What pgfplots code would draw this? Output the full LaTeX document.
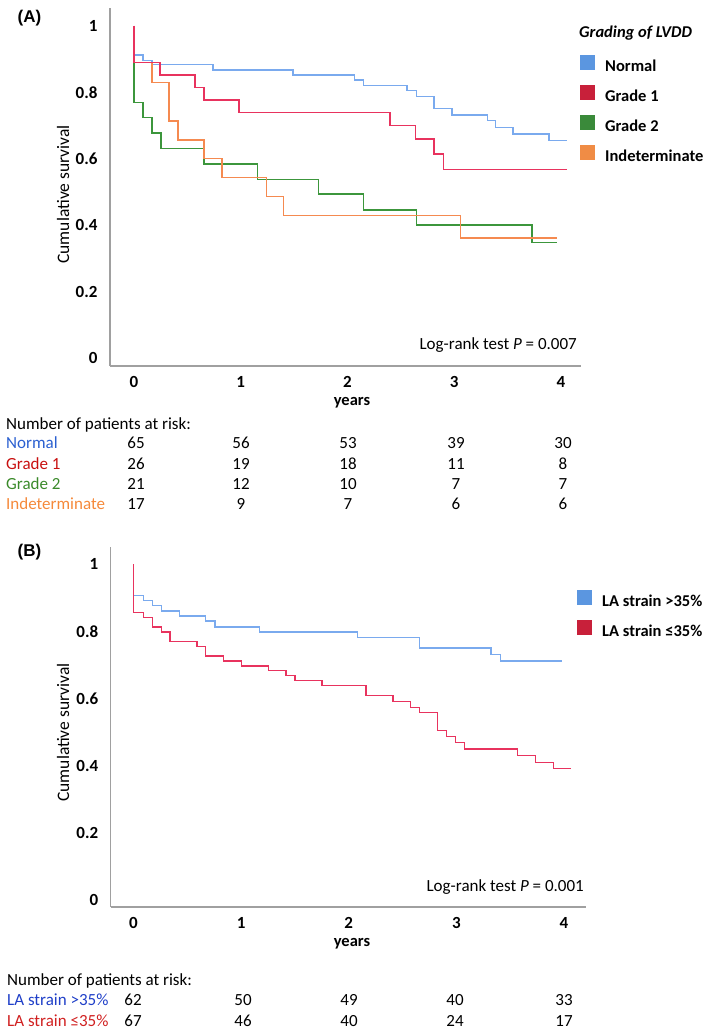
\documentclass[border=0pt]{standalone}
\usepackage{pgfplots}
\pgfplotsset{compat=1.18}
\usepackage{fontspec}
\setmainfont{Carlito}
\newfontfamily\arialfont{Liberation Sans}
\definecolor{lnblue}{HTML}{7AAAEE}
\definecolor{lnred}{HTML}{E8335E}
\definecolor{lngreen}{HTML}{3C963C}
\definecolor{lnorange}{HTML}{F58A50}
\definecolor{sqblue}{HTML}{5B96E0}
\definecolor{sqred}{HTML}{C8203A}
\definecolor{sqgreen}{HTML}{3A8A3A}
\definecolor{sqorange}{HTML}{F08C45}
\definecolor{txblue}{HTML}{2A5FD0}
\definecolor{txred}{HTML}{C81010}
\definecolor{txgreen}{HTML}{3A8A2A}
\definecolor{txorange}{HTML}{F5893A}
\definecolor{txblueB}{HTML}{1F3FC8}
\definecolor{txredB}{HTML}{D02020}
\definecolor{axgray}{HTML}{A0A0A0}
\newcommand{\fs}{\fontsize{17}{20}\selectfont}
\pgfplotsset{
  kmaxis/.style={
    scale only axis,
    axis x line*=bottom, axis y line*=left,
    axis line style={axgray, line width=1.3pt, -},
    major tick length=0pt,
    xtick={0,1,2,3,4}, xticklabels={0,1,2,3,4},
    ytick={0,0.2,0.4,0.6,0.8,1}, yticklabels={0,0.2,0.4,0.6,0.8,1},
    ticklabel style={font=\fs\bfseries},
    xticklabel style={yshift=-7pt},
    yticklabel style={xshift=-9pt},
    clip=false,
    legend cell align=left,
    legend image code/.code={\draw[##1, line width=0.5pt] (0pt,-1.5pt) rectangle (13.5pt,12pt);},
    legend style={draw=none, fill=none, anchor=north west, inner sep=0pt,
      font=\fontsize{16.5}{19}\selectfont\bfseries, row sep=10.5pt, column sep=11pt,
      nodes={inner sep=0pt, text height=11.5pt, text depth=3pt}},
  },
  kmline/.style={const plot, no marks, line width=1.4pt},
}
\begin{document}
\begin{tikzpicture}[x=1pt,y=1pt]
\useasboundingbox (0,0) rectangle (709,1033);
% ---------------- Panel A ----------------
\begin{axis}[kmaxis, at={(110pt,667pt)}, anchor=south west,
  width=471pt, height=358pt,
  xmin=-0.225, xmax=4.189, ymin=-0.024, ymax=1.054,
  legend style={at={(1,1)}, xshift=-1pt, yshift=-47pt}]
\addplot[kmline, lnblue, forget plot] coordinates {
(0,1) (0,0.913) (0.084,0.895) (0.169,0.883) (0.74,0.867) (1.49,0.852)
(2.065,0.837) (2.15,0.82) (2.56,0.805) (2.65,0.787) (2.81,0.752)
(2.98,0.732) (3.31,0.715) (3.39,0.695) (3.55,0.675) (3.89,0.655) (4.055,0.655)};
\addplot[kmline, lngreen, forget plot] coordinates {
(0,1) (0,0.77) (0.084,0.724) (0.169,0.678) (0.253,0.63) (0.656,0.584)
(1.16,0.538) (1.73,0.494) (2.15,0.446) (2.65,0.40) (3.73,0.347) (3.96,0.347)};
\addplot[kmline, lnorange, forget plot] coordinates {
(0,1) (0,0.889) (0.169,0.829) (0.328,0.714) (0.412,0.657) (0.656,0.60)
(0.825,0.543) (1.24,0.486) (1.40,0.429) (3.06,0.362) (3.96,0.362)};
\addplot[kmline, lnred, forget plot] coordinates {
(0,1) (0,0.889) (0.244,0.852) (0.572,0.815) (0.656,0.777) (0.984,0.739)
(2.40,0.70) (2.64,0.659) (2.81,0.614) (2.90,0.568) (4.055,0.568)};
\addlegendimage{draw=sqblue, fill=sqblue}
\addlegendentry{Normal}
\addlegendimage{draw=sqred, fill=sqred}
\addlegendentry{Grade 1}
\addlegendimage{draw=sqgreen, fill=sqgreen}
\addlegendentry{Grade 2}
\addlegendimage{draw=sqorange, fill=sqorange}
\addlegendentry{Indeterminate}
\end{axis}
\node[anchor=center, font=\arialfont\fontsize{17}{20}\selectfont\bfseries] at (29.5,1015) {(A)};
\node[rotate=90, anchor=base, inner sep=0pt, font=\fontsize{17.5}{20}\selectfont] at (69,838.5) {Cumulative survival};
\node[anchor=center, font=\fontsize{16.5}{20}\selectfont\bfseries] at (352,630) {years};
\node[anchor=east, inner sep=0pt, font=\fs] at (577,688) {Log-rank test \textit{P} = 0.007};
\node[anchor=west, inner sep=0pt, font=\fontsize{16.5}{20}\selectfont\bfseries\itshape] at (579,1000) {Grading of LVDD};
% at-risk table A
\begin{scope}[every node/.style={inner sep=0pt, font=\fs}]
\node[anchor=base west] at (6,603.5) {Number of patients at risk:};
\node[anchor=base west, text=txblue] at (6,584.2) {Normal};
\node[anchor=base west, text=txred] at (6,563.2) {Grade 1};
\node[anchor=base west, text=txgreen] at (6,543.2) {Grade 2};
\node[anchor=base west, text=txorange] at (6,523.2) {Indeterminate};
\foreach \x/\a/\b/\c/\d in {136/65/26/21/17, 241/56/19/12/9, 348/53/18/10/7, 456/39/11/7/6, 563/30/8/7/6}{
  \node[anchor=base] at (\x,584.2) {\a};
  \node[anchor=base] at (\x,563.2) {\b};
  \node[anchor=base] at (\x,543.2) {\c};
  \node[anchor=base] at (\x,523.2) {\d};
}
\end{scope}
% ---------------- Panel B ----------------
\begin{axis}[kmaxis, at={(110.7pt,126pt)}, anchor=south west,
  width=475.3pt, height=360pt,
  xmin=-0.212, xmax=4.205, ymin=-0.021, ymax=1.052,
  legend style={at={(1,1)}, xshift=-9pt, yshift=-43pt}]
\addplot[kmline, lnblue, forget plot] coordinates {
(0,1) (0,0.908) (0.091,0.893) (0.175,0.877) (0.258,0.861) (0.426,0.846)
(0.671,0.831) (0.757,0.814) (1.169,0.799) (2.08,0.783) (2.656,0.751)
(3.322,0.731) (3.409,0.712) (3.98,0.712)};
\addplot[kmline, lnred, forget plot] coordinates {
(0,1) (0,0.856) (0.091,0.841) (0.175,0.813) (0.258,0.799) (0.34,0.77)
(0.59,0.755) (0.671,0.727) (0.838,0.712) (1.002,0.697) (1.253,0.683)
(1.417,0.669) (1.50,0.654) (1.752,0.64) (2.161,0.609) (2.411,0.591)
(2.576,0.574) (2.66,0.558) (2.823,0.505) (2.907,0.487) (2.99,0.47)
(3.074,0.45) (3.571,0.43) (3.738,0.41) (3.905,0.391) (4.066,0.391)};
\addlegendimage{draw=sqblue, fill=sqblue}
\addlegendentry{LA strain >35\%}
\addlegendimage{draw=sqred, fill=sqred}
\addlegendentry{LA strain ≤35\%}
\end{axis}
\node[anchor=center, font=\arialfont\fontsize{17}{20}\selectfont\bfseries] at (29.5,481.3) {(B)};
\node[rotate=90, anchor=base, inner sep=0pt, font=\fontsize{17.5}{20}\selectfont] at (69,300.5) {Cumulative survival};
\node[anchor=center, font=\fontsize{16.5}{20}\selectfont\bfseries] at (352,89) {years};
\node[anchor=east, inner sep=0pt, font=\fs] at (584,146) {Log-rank test \textit{P} = 0.001};
\begin{scope}[every node/.style={inner sep=0pt, font=\fs}]
\node[anchor=base west] at (7,47.5) {Number of patients at risk:};
\node[anchor=base west, text=txblueB] at (7,27.5) {LA strain >35\%};
\node[anchor=base west, text=txredB] at (7,6.5) {LA strain ≤35\%};
\foreach \x/\a/\b in {133/62/67, 243/50/46, 349/49/40, 455/40/24, 564/33/17}{
  \node[anchor=base] at (\x,27.5) {\a};
  \node[anchor=base] at (\x,6.5) {\b};
}
\end{scope}
\end{tikzpicture}
\end{document}
